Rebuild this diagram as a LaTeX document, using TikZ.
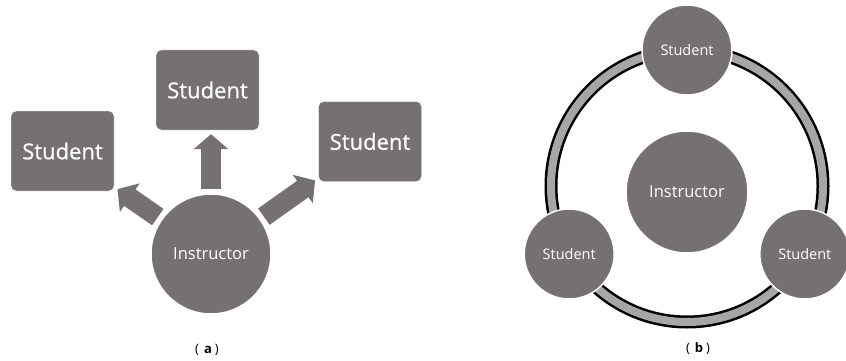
\documentclass[tikz,border=0pt]{standalone}
\usepackage{fontspec}
\setmainfont{Open Sans}
\newfontfamily\boxfont[FakeBold=0.6]{Open Sans}
\usetikzlibrary{arrows.meta}
\definecolor{shapegray}{HTML}{767171}
\definecolor{ringgray}{HTML}{A6A6A6}
\begin{document}
\begin{tikzpicture}[x=1pt, y=-1pt,
	studbox/.style={fill=shapegray, draw=white, rounded corners=5pt, minimum width=103pt, minimum height=80pt, inner sep=0pt, text=white, font=\boxfont\fontsize{22}{26}\selectfont},
	disc/.style={circle, fill=shapegray, draw=white, line width=1.5pt, inner sep=0pt, text=white},
	blockarrow/.style={draw=shapegray, line width=20pt, -{Triangle[width=34pt, length=15pt]}, shorten <=4pt, shorten >=4pt},
	caption/.style={font=\fontsize{13}{15}\selectfont}]
	\useasboundingbox (0,0) rectangle (846,361);
	% (a)
	\node[studbox] (lbox) at (62.5,151) {Student};
	\node[studbox] (tbox) at (207.5,90) {Student};
	\node[studbox] (rbox) at (370,141.5) {Student};
	\node[disc, minimum size=120pt, font=\fontsize{16.5}{20}\selectfont] (inst) at (211,254) {Instructor};
	\draw[blockarrow] (inst) -- (lbox);
	\draw[blockarrow] (inst) -- (inst |- tbox.south);
	\draw[blockarrow] (inst) -- (rbox);
	\node[caption] (capa) at (207,350) {(\hspace{5pt}\textbf{a}\hspace{3pt})};
	% (b)
	\coordinate (ringc) at (687,186);
	\draw[line width=13pt] (ringc) circle[radius=136];
	\draw[ringgray, line width=8pt] (ringc) circle[radius=136];
	\node[disc, minimum size=122pt, font=\fontsize{16.5}{20}\selectfont] (instb) at (687,192) {Instructor};
	\node[disc, minimum size=90pt, font=\fontsize{14.5}{17}\selectfont] (stop) at (687,50) {Student};
	\node[disc, minimum size=90pt, font=\fontsize{14.5}{17}\selectfont] (sleft) at (569.2,254) {Student};
	\node[disc, minimum size=90pt, font=\fontsize{14.5}{17}\selectfont] (sright) at (804.8,254) {Student};
	\node[caption] (capb) at (698,349) {(\hspace{5pt}\textbf{b}\hspace{3pt})};
\end{tikzpicture}
\end{document}
